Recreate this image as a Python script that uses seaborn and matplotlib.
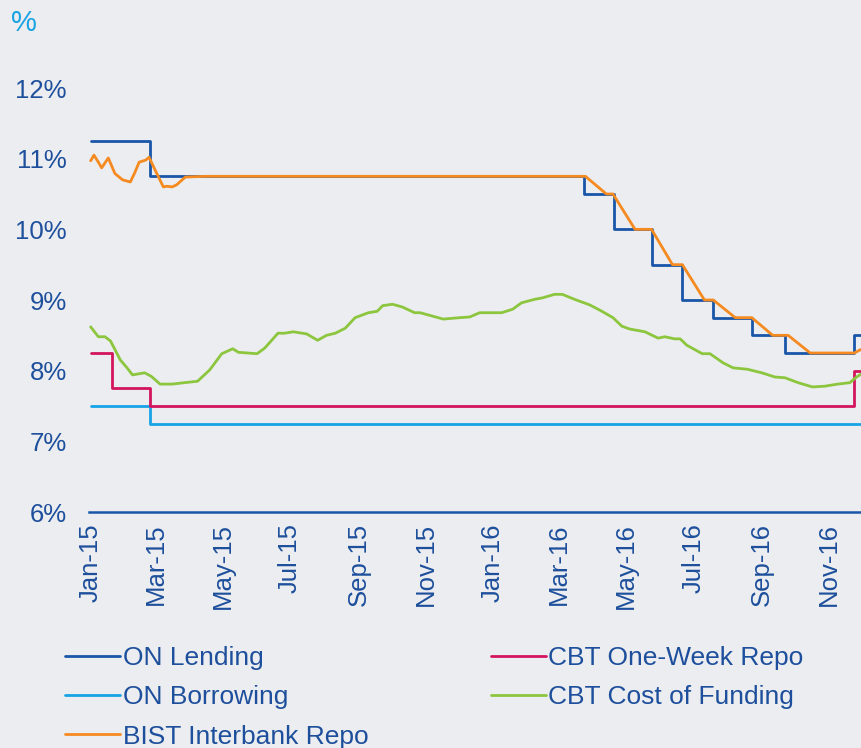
import pandas as pd
import matplotlib
matplotlib.use("Agg")
import matplotlib.pyplot as plt
import seaborn as sns

# =========================================================
# DATA
# =========================================================
on_lending_dates = ["2015-01-01", "2015-02-24", "2016-03-24", "2016-04-20", "2016-05-24",
                    "2016-06-21", "2016-07-19", "2016-08-23", "2016-09-22", "2016-11-24",
                    "2016-11-30"]
on_lending_vals = [11.25, 10.75, 10.50, 10.00, 9.50, 9.00, 8.75, 8.50, 8.25, 8.50, 8.50]

on_borrowing_dates = ["2015-01-01", "2015-02-24", "2016-11-30"]
on_borrowing_vals = [7.50, 7.25, 7.25]

one_week_dates = ["2015-01-01", "2015-01-20", "2015-02-24", "2016-11-24", "2016-11-30"]
one_week_vals = [8.25, 7.75, 7.50, 8.00, 8.00]

bist_dates = ["2015-01-01", "2015-01-04", "2015-01-08", "2015-01-11", "2015-01-17",
              "2015-01-23", "2015-01-30", "2015-02-06", "2015-02-10", "2015-02-14",
              "2015-02-20", "2015-02-23", "2015-03-02", "2015-03-08", "2015-03-11",
              "2015-03-16", "2015-03-20", "2015-03-28", "2015-04-15", "2016-03-25",
              "2016-04-13", "2016-04-19", "2016-05-09", "2016-05-24", "2016-06-12",
              "2016-06-21", "2016-07-11", "2016-07-19", "2016-08-08", "2016-08-23",
              "2016-09-11", "2016-09-25", "2016-10-15", "2016-11-24", "2016-11-30"]
bist_vals = [10.97, 11.05, 10.95, 10.87, 11.01,
             10.79, 10.70, 10.67, 10.80, 10.95,
             10.98, 11.02, 10.79, 10.60, 10.61,
             10.60, 10.63, 10.74, 10.75, 10.75,
             10.50, 10.50, 10.00, 10.00, 9.50,
             9.50, 9.00, 9.00, 8.75, 8.75,
             8.50, 8.50, 8.25, 8.25, 8.30]

cost_dates = ["2015-01-01", "2015-01-08", "2015-01-14", "2015-01-19", "2015-01-28",
              "2015-02-03", "2015-02-08", "2015-02-19", "2015-02-25", "2015-03-05",
              "2015-03-16", "2015-03-27", "2015-04-08", "2015-04-19", "2015-04-30",
              "2015-05-10", "2015-05-15", "2015-06-01", "2015-06-08", "2015-06-20",
              "2015-06-26", "2015-07-04", "2015-07-16", "2015-07-26", "2015-08-03",
              "2015-08-11", "2015-08-20", "2015-08-29", "2015-09-10", "2015-09-18",
              "2015-09-23", "2015-10-02", "2015-10-11", "2015-10-22", "2015-10-27",
              "2015-11-03", "2015-11-17", "2015-12-02", "2015-12-11", "2015-12-20",
              "2015-12-31", "2016-01-09", "2016-01-19", "2016-01-27", "2016-02-08",
              "2016-02-15", "2016-02-26", "2016-03-04", "2016-03-15", "2016-03-29",
              "2016-04-09", "2016-04-19", "2016-04-27", "2016-05-04", "2016-05-18",
              "2016-05-30", "2016-06-05", "2016-06-14", "2016-06-19", "2016-06-25",
              "2016-07-09", "2016-07-16", "2016-07-28", "2016-08-06", "2016-08-19",
              "2016-09-01", "2016-09-13", "2016-09-22", "2016-10-04", "2016-10-17",
              "2016-10-28", "2016-11-09", "2016-11-20", "2016-11-26", "2016-11-30"]
cost_vals = [8.62, 8.48, 8.48, 8.42, 8.15,
             8.04, 7.94, 7.97, 7.92, 7.81,
             7.81, 7.83, 7.85, 8.01, 8.24,
             8.31, 8.26, 8.24, 8.32, 8.53,
             8.53, 8.55, 8.52, 8.43, 8.50,
             8.53, 8.60, 8.75, 8.82, 8.84,
             8.92, 8.94, 8.90, 8.82, 8.82,
             8.79, 8.73, 8.75, 8.76, 8.82,
             8.82, 8.82, 8.87, 8.96, 9.01,
             9.03, 9.08, 9.08, 9.01, 8.93,
             8.84, 8.75, 8.63, 8.59, 8.55,
             8.46, 8.48, 8.45, 8.45, 8.36,
             8.24, 8.24, 8.11, 8.04, 8.02,
             7.97, 7.91, 7.90, 7.83, 7.77,
             7.78, 7.81, 7.83, 7.91, 7.95]

y_ticks = [6, 7, 8, 9, 10, 11, 12]
y_labels = ["6%", "7%", "8%", "9%", "10%", "11%", "12%"]

x_tick_dates = ["2015-01-01", "2015-03-01", "2015-05-01", "2015-07-01", "2015-09-01",
                "2015-11-01", "2016-01-01", "2016-03-01", "2016-05-01", "2016-07-01",
                "2016-09-01", "2016-11-01"]
x_tick_labels = ["Jan-15", "Mar-15", "May-15", "Jul-15", "Sep-15", "Nov-15",
                 "Jan-16", "Mar-16", "May-16", "Jul-16", "Sep-16", "Nov-16"]

# colours
BG = "#ECEDF0"
TEXT_BLUE = "#1D4F9C"
C_LENDING = "#1A56A8"
C_BORROW = "#16A4E6"
C_BIST = "#F58A20"
C_WEEK = "#D2155E"
C_COST = "#8CC63E"

# =========================================================
# PLOT
# =========================================================
sns.set_theme(style="white")
plt.rcParams["font.family"] = ["Liberation Sans", "DejaVu Sans"]

fig = plt.figure(figsize=(8.61, 7.48), dpi=100, facecolor=BG)
ax = fig.add_axes([89 / 861, (748 - 512) / 748, 1 - 89 / 861, (512 - 88) / 748])
ax.set_facecolor(BG)

lw = 2.0
series = [
    (on_lending_dates, on_lending_vals, "ON Lending", C_LENDING, "steps-post", 2),
    (on_borrowing_dates, on_borrowing_vals, "ON Borrowing", C_BORROW, "steps-post", 2),
    (bist_dates, bist_vals, "BIST Interbank Repo", C_BIST, "default", 5),
    (one_week_dates, one_week_vals, "CBT One-Week Repo", C_WEEK, "steps-post", 3),
    (cost_dates, cost_vals, "CBT Cost of Funding", C_COST, "default", 4),
]
for d, v, name, col, ds, z in series:
    df = pd.DataFrame({"date": pd.to_datetime(d), "val": v})
    sns.lineplot(data=df, x="date", y="val", ax=ax, color=col, linewidth=lw,
                 drawstyle=ds, zorder=z, label=name)

ax.set_xlim(pd.Timestamp("2014-12-30 12:00"), pd.Timestamp("2016-11-30 02:00"))
ax.set_ylim(6, 12)
ax.set_yticks(y_ticks)
ax.set_yticklabels(y_labels)
ax.set_xticks(pd.to_datetime(x_tick_dates))
ax.set_xticklabels(x_tick_labels, rotation=90)
ax.tick_params(axis="y", length=0, pad=16, labelsize=18.5, labelcolor=TEXT_BLUE)
ax.tick_params(axis="x", length=0, pad=8, labelsize=18.5, labelcolor=TEXT_BLUE)
ax.set_xlabel("")
ax.set_ylabel("")

for s in ["top", "right", "left"]:
    ax.spines[s].set_visible(False)
ax.spines["bottom"].set_color(C_LENDING)
ax.spines["bottom"].set_linewidth(1.8)
ax.grid(False)

fig.text(11 / 861, 1 - 9 / 748, "%", color="#1BA3E3", fontsize=21, va="top", ha="left")

ax.get_legend().remove()
h, l = ax.get_legend_handles_labels()
order = ["ON Lending", "ON Borrowing", "BIST Interbank Repo", "CBT One-Week Repo", "CBT Cost of Funding"]
hmap = dict(zip(l, h))
leg = fig.legend([hmap[k] for k in order], order, ncol=2, loc="upper left",
                 bbox_to_anchor=(65 / 861, 1 - 646 / 748), frameon=False,
                 fontsize=19, handlelength=2.1, handletextpad=0.08,
                 columnspacing=4.65, labelspacing=0.58, borderpad=0, borderaxespad=0)
for t in leg.get_texts():
    t.set_color(TEXT_BLUE)

fig.savefig("out.png", dpi=100, facecolor=BG)
plt.close(fig)
